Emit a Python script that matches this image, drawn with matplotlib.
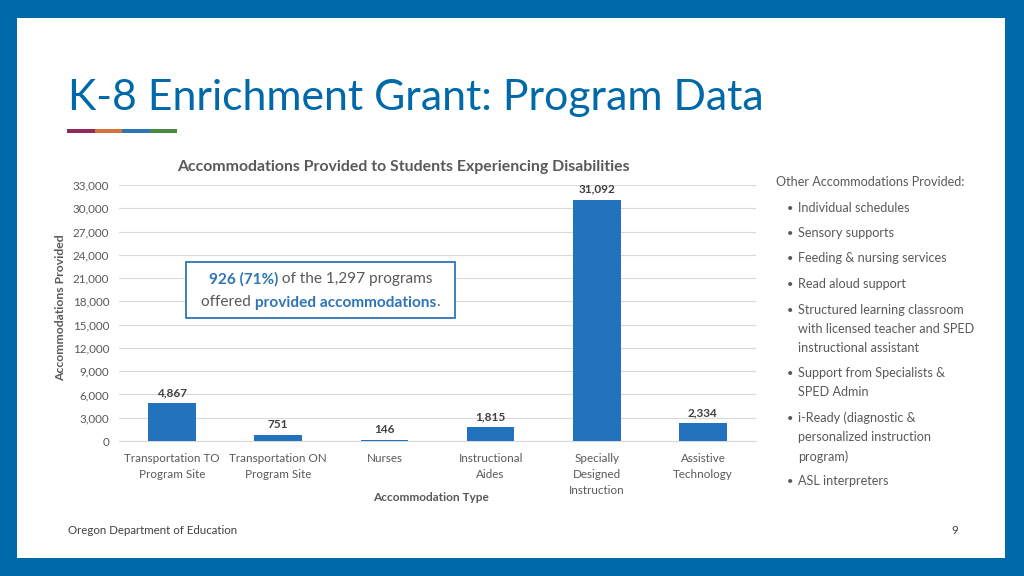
import matplotlib.pyplot as plt
from matplotlib.patches import Rectangle

categories = ['Transportation TO\nProgram Site', 'Transportation ON\nProgram Site', 'Nurses',
              'Instructional\nAides', 'Specially\nDesigned\nInstruction', 'Assistive\nTechnology']
values = [4867, 751, 146, 1815, 31092, 2334]
yticks = [0, 3000, 6000, 9000, 12000, 15000, 18000, 21000, 24000, 27000, 30000, 33000]
other_items = ['Individual schedules', 'Sensory supports', 'Feeding & nursing services',
               'Read aloud support',
               'Structured learning classroom\nwith licensed teacher and SPED\ninstructional assistant',
               'Support from Specialists &\nSPED Admin',
               'i-Ready (diagnostic &\npersonalized instruction\nprogram)',
               'ASL interpreters']

plt.rcParams['font.family'] = ['Lato', 'DejaVu Sans']
BLUE = '#0069AA'
BAR = '#2272BE'
GRAY = '#595959'
ACC = '#2E75B6'

fig = plt.figure(figsize=(10.24, 5.76), dpi=100)
fig.patch.set_facecolor(BLUE)

# white slide panel
fig.patches.append(Rectangle((17/1024, 1 - 558/576), (1005-17)/1024, (558-18)/576,
                             transform=fig.transFigure, facecolor='white', edgecolor='none', zorder=-10))

# title + coloured underline
fig.text(68/1024, 1 - 110/576, 'K-8 Enrichment Grant: Program Data', fontsize=30.8,
         color=BLUE, ha='left', va='baseline')
for i, c in enumerate(['#8E2A5E', '#D6723A', '#2E75B6', '#4A8A3F']):
    fig.patches.append(Rectangle(((67 + i*27.5)/1024, 1 - 132.5/576), 27.5/1024, 3/576,
                                 transform=fig.transFigure, facecolor=c, edgecolor='none'))

# chart
ax = fig.add_axes([119/1024, 1 - 441/576, 637/1024, 256/576])
x = range(len(values))
ax.bar(x, values, width=0.45, color=BAR, zorder=3)
for xi, v in zip(x, values):
    ax.text(xi, v + 650, f'{v:,}', ha='center', va='bottom', fontsize=8.5,
            fontweight='bold', color='#404040')
ax.set_xlim(-0.5, len(values) - 0.5)
ax.set_ylim(0, 33000)
ax.set_yticks(yticks)
ax.set_yticklabels([f'{t:,}' for t in yticks])
ax.set_xticks(list(x))
ax.set_xticklabels(categories, linespacing=1.55)
ax.tick_params(axis='both', length=0, labelsize=8.4, labelcolor=GRAY)
ax.tick_params(axis='y', pad=7)
ax.tick_params(axis='x', pad=9)
ax.grid(axis='y', color='#D9D9D9', linewidth=0.8, zorder=0)
for s in ['top', 'right', 'left']:
    ax.spines[s].set_visible(False)
ax.spines['bottom'].set_color('#D9D9D9')
ax.set_facecolor('none')
ax.set_title('Accommodations Provided to Students Experiencing Disabilities', fontsize=11.4,
             fontweight='bold', color=GRAY, pad=10, x=0.447)
ax.set_ylabel('Accommodations Provided', fontsize=8.8, fontweight='bold', color=GRAY)
ax.yaxis.set_label_coords(-0.083, 0.52)
ax.set_xlabel('Accommodation Type', fontsize=8.6, fontweight='bold', color=GRAY, va='center')
ax.xaxis.set_label_coords(0.49, -0.219)

# callout box
fig.patches.append(Rectangle((186/1024, 1 - 318/576), 269/1024, 56/576, transform=fig.transFigure,
                             facecolor='white', edgecolor=ACC, linewidth=1.3, zorder=5))

line1 = [('926 (71%)', ACC, 'bold'), (' of the 1,297 programs', GRAY, 'normal')]
line2 = [('offered ', GRAY, 'normal'), ('provided accommodations', ACC, 'bold'), ('.', GRAY, 'normal')]
r = fig.canvas.get_renderer()
for parts, y0 in [(line1, 283.5), (line2, 306.5)]:
    texts = [fig.text(0, 0, txt, fontsize=11.1, color=col, fontweight=wt, zorder=6, va='baseline')
             for txt, col, wt in parts]
    widths = [tt.get_window_extent(r).width for tt in texts]
    xs = 320.5 - sum(widths) / 2
    for tt, w in zip(texts, widths):
        tt.set_position((xs/1024, 1 - y0/576))
        xs += w

# right-hand list
fig.text(776/1024, 1 - 182/576, 'Other Accommodations Provided:', fontsize=9.1, color=GRAY,
         ha='left', va='center')
y = 208
for item in other_items:
    fig.text(787/1024, 1 - y/576, '\u2022', fontsize=8, color=GRAY, ha='left', va='center')
    n = item.count('\n') + 1
    fig.text(798/1024, 1 - (y - 6.5)/576, item, fontsize=9.1, color=GRAY, ha='left', va='top',
             linespacing=1.72)
    y += 25.5 + (n - 1) * 19

# footer
fig.text(68/1024, 1 - 531/576, 'Oregon Department of Education', fontsize=8.3, color='#404040',
         ha='left', va='center')
fig.text(958/1024, 1 - 531/576, '9', fontsize=8.3, color='#404040', ha='right', va='center')

fig.savefig('out.png', dpi=100, facecolor=fig.get_facecolor())
